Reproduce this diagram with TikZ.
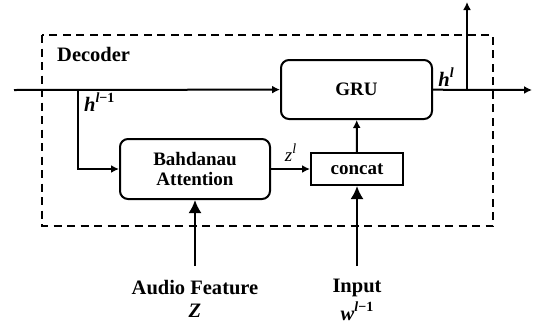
\documentclass[tikz,border=0pt]{standalone}
\usepackage{fontspec}
\setmainfont{Liberation Serif}
\usetikzlibrary{arrows.meta}
\newcommand\upidx[1]{\raisebox{0.42em}{\fontsize{14}{15}\selectfont #1}}

\begin{document}
\begin{tikzpicture}[x=1pt,y=-1pt]
        % styles
        \tikzstyle{block}=[draw, line width=2pt, rounded corners=8pt, align=center, inner sep=0pt, font=\fontsize{19}{20}\selectfont\bfseries]
        \tikzstyle{label}=[inner sep=1pt, font=\fontsize{20.5}{22}\selectfont\bfseries]
        \tikzstyle{flow}=[line width=2pt, -{Latex[length=8pt,width=8pt]}]
        \tikzstyle{feed}=[line width=2pt, -{Latex[length=13pt,width=13pt]}]
        \useasboundingbox (0,0) rectangle (537,327);

        % decoder frame
        \draw[line width=2pt, dash pattern=on 8pt off 5.5pt] (42,35) rectangle (493,226);
        \node[label, anchor=west] (decoder) at (56,54) {Decoder};

        % blocks
        \node[block, minimum width=151pt, minimum height=59pt] (gru) at (356.5,89.5) {GRU};
        \node[block, minimum width=150pt, minimum height=60pt] (attn) at (195,169) {Bahdanau\\Attention};
        \node[block, rounded corners=0pt, minimum width=92pt, minimum height=32pt] (concat) at (357,169) {concat};

        % inputs
        \coordinate (start) at (14,90);
        \coordinate (split) at (78,90);
        \coordinate (audio) at (195,266);
        \coordinate (input) at (357,266);
        \node[label] (audiolab) at (195,288) {Audio Feature};
        \node[label] (zlab) at (195,311) {\textit{Z}};
        \node[label] (inputlab) at (357,288) {Input};
        \node[label] (wlab) at (357,311) {\textit{w}\upidx{\textbf{\textit{l}−1}}};

        % outputs
        \coordinate (fork) at (467,90);
        \coordinate (next) at (532,90);
        \coordinate (up) at (467,2);

        % connectors
        \draw[flow] (start) -- (gru);
        \draw[flow] (split) |- (attn);
        \draw[flow] (attn) -- (concat) node[midway, above=3pt, font=\fontsize{19}{20}\selectfont] (zl) {\textit{z}\upidx{\textit{l}}};
        \draw[flow] (concat) -- (gru);
        \draw[feed] (audio) -- (attn);
        \draw[feed] (input) -- (concat);
        \draw[flow] (gru) -- (next);
        \draw[flow] (fork) -- (up);

        % state labels
        \node[label, anchor=west] (hprev) at (83,102) {\textit{h}\upidx{\textbf{\textit{l}−1}}};
        \node[label] (hcur) at (446,77) {\textit{h}\upidx{\textbf{\textit{l}}}};
    \end{tikzpicture}
\end{document}
